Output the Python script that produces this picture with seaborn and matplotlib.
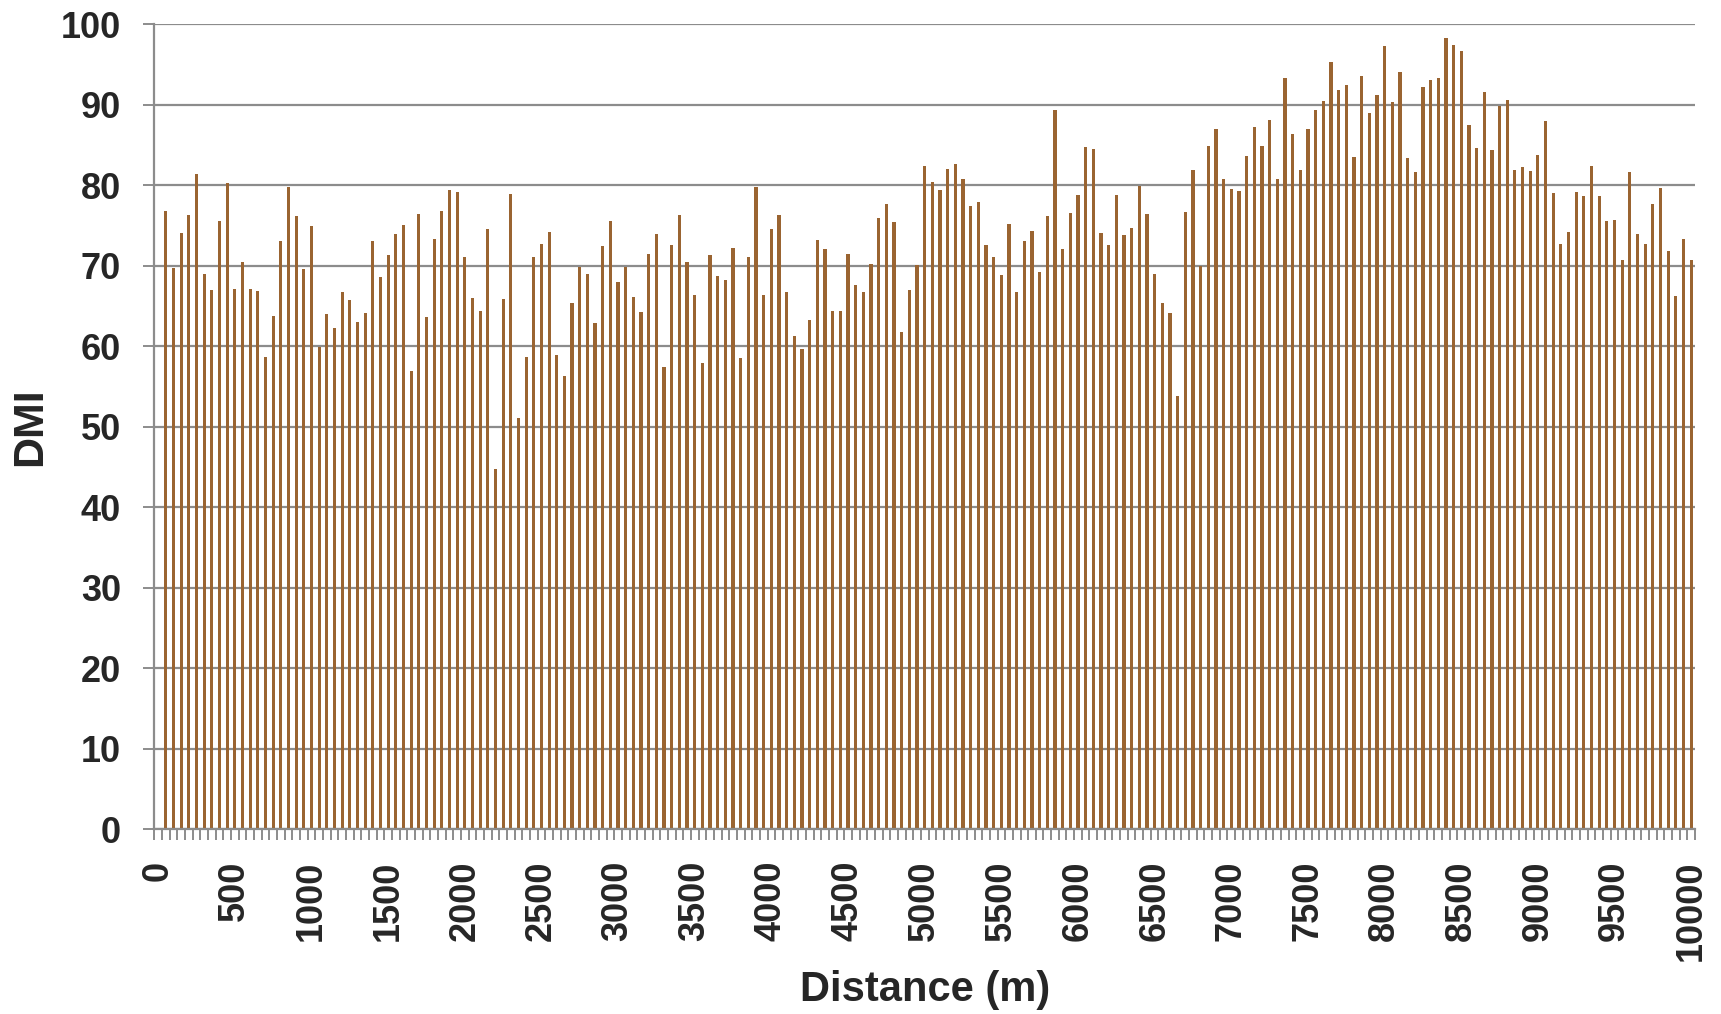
import numpy as np
import pandas as pd
import matplotlib
matplotlib.use("Agg")
import matplotlib.pyplot as plt
import seaborn as sns

# === Data: DMI along the route, every 50 m (no reading at 0 m) ===
distance = list(range(0, 10001, 50))

dmi = [np.nan,
       76.8, 69.7, 74.0, 76.3, 81.4, 68.9, 66.9, 75.5, 80.2, 67.1,
       70.4, 67.1, 66.8, 58.6, 63.7, 73.1, 79.8, 76.1, 69.6, 74.9,
       59.9, 64.0, 62.2, 66.7, 65.7, 63.0, 64.1, 73.0, 68.6, 71.3,
       73.9, 75.0, 56.9, 76.4, 63.6, 73.3, 76.8, 79.4, 79.1, 71.1,
       66.0, 64.4, 74.5, 44.7, 65.9, 78.9, 51.0, 58.7, 71.0, 72.7,
       74.2, 58.9, 56.3, 65.3, 69.8, 69.0, 62.8, 72.4, 75.5, 67.9,
       69.8, 66.1, 64.2, 71.4, 73.9, 57.4, 72.6, 76.3, 70.5, 66.3,
       57.9, 71.3, 68.7, 68.2, 72.2, 58.5, 71.1, 79.7, 66.3, 74.5,
       76.3, 66.7, 61.2, 59.6, 63.2, 73.2, 72.1, 64.3, 64.3, 71.4,
       67.6, 66.7, 70.2, 75.9, 77.6, 75.4, 61.7, 67.0, 70.1, 82.4,
       80.4, 79.4, 82.0, 82.6, 80.7, 77.4, 77.9, 72.5, 71.1, 68.8,
       75.2, 66.7, 73.0, 74.3, 69.2, 76.1, 89.3, 72.0, 76.5, 78.7,
       84.7, 84.5, 74.1, 72.5, 78.8, 73.8, 74.7, 79.9, 76.4, 68.9,
       65.3, 64.1, 53.8, 76.6, 81.9, 69.9, 84.8, 87.0, 80.7, 79.5,
       79.2, 83.6, 87.2, 84.9, 88.1, 80.7, 93.3, 86.3, 81.9, 87.0,
       89.3, 90.4, 95.3, 91.8, 92.4, 83.5, 93.6, 89.0, 91.2, 97.3,
       90.3, 94.0, 83.4, 81.6, 92.2, 93.0, 93.3, 98.3, 97.4, 96.6,
       87.5, 84.6, 91.6, 84.3, 89.8, 90.6, 81.9, 82.3, 81.8, 83.7,
       88.0, 79.0, 72.7, 74.2, 79.1, 78.6, 82.4, 78.6, 75.5, 75.6,
       70.7, 81.6, 73.9, 72.7, 77.7, 79.6, 71.8, 66.2, 73.3, 70.7]

df = pd.DataFrame({"Distance": [str(d) for d in distance], "DMI": dmi})
order = [str(d) for d in distance]

# === Style ===
sns.set_style("white")
plt.rcParams["font.family"] = ["Liberation Sans", "DejaVu Sans"]
plt.rcParams["font.weight"] = "bold"

grid_grey = "#8c8c8c"
bar_brown = "#9a6431"

fig = plt.figure(figsize=(17.21, 10.14), dpi=100)
ax = fig.add_axes([0.0897, 0.1824, 0.8952, 0.7939])

sns.barplot(data=df, x="Distance", y="DMI", order=order, color=bar_brown,
            saturation=1, width=0.42, errorbar=None, linewidth=0, ax=ax)

ax.set_xlim(-0.5, len(order) - 0.5)
ax.set_ylim(0, 100)
ax.set_yticks(range(0, 101, 10))
ax.yaxis.grid(True, color=grid_grey, linewidth=1.6)
ax.set_axisbelow(True)

# labels every 500 m, tick marks between every category
ax.set_xticks(range(0, len(order), 10))
ax.set_xticklabels(order[::10], rotation=90, fontsize=26, fontweight="bold")
ax.set_xticks(np.arange(-0.5, len(order), 1), minor=True)
ax.tick_params(axis="x", which="major", length=0, pad=23)
ax.tick_params(axis="x", which="minor", length=8, width=1.4, color=grid_grey,
               direction="out", bottom=True)
ax.tick_params(axis="y", which="major", length=8, width=1.4, color=grid_grey,
               direction="out", left=True, pad=16, labelsize=26)
for lab in ax.get_yticklabels():
    lab.set_fontweight("bold")

for side in ["top", "right"]:
    ax.spines[side].set_visible(False)
for side in ["left", "bottom"]:
    ax.spines[side].set_color(grid_grey)
    ax.spines[side].set_linewidth(1.6)

ax.set_xlabel("Distance (m)", fontsize=30, fontweight="bold", labelpad=6)
ax.set_ylabel("DMI", fontsize=31, fontweight="bold", labelpad=8)

fig.savefig("out.png", dpi=100)
